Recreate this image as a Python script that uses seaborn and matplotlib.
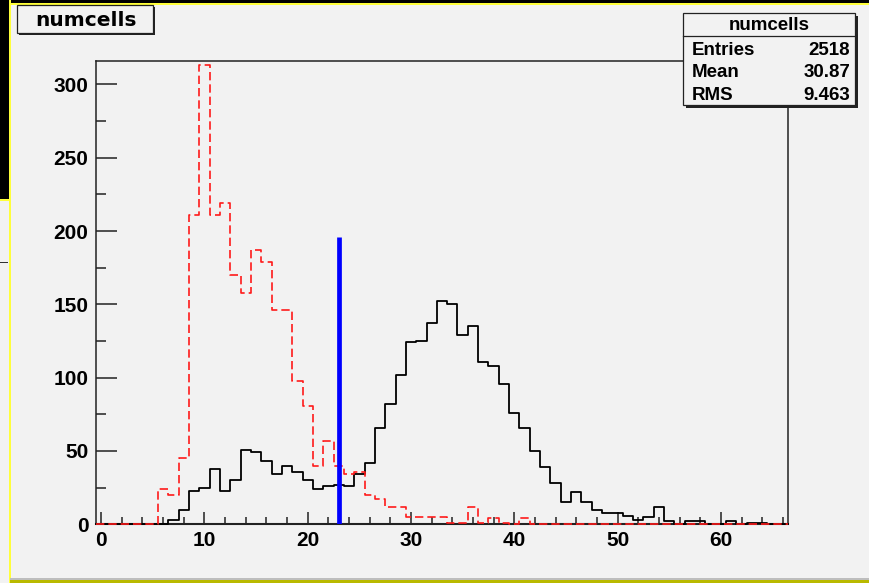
import numpy as np
import pandas as pd
import matplotlib
matplotlib.use("Agg")
import matplotlib.pyplot as plt
from matplotlib.patches import Rectangle
import seaborn as sns

# ---- data: counts per unit-width bin, bins centred on 0..66 ----
bin_centers = list(range(67))
counts_all = [0, 0, 0, 0, 0, 0, 0, 3, 10, 23, 25, 38, 23, 30, 51, 49, 43, 34, 40, 36,
              30, 24, 26, 27, 26, 34, 42, 66, 82, 102, 124, 125, 137, 152, 150, 129, 135, 111, 108, 96,
              76, 66, 50, 39, 28, 15, 22, 15, 10, 8, 8, 6, 3, 5, 12, 2, 0, 2, 2, 0,
              0, 2, 0, 1, 1, 0, 0]
counts_sel = [0, 0, 0, 0, 0, 0, 24, 20, 45, 211, 313, 211, 219, 170, 158, 187, 179, 146, 146, 98,
              81, 40, 57, 40, 34, 36, 20, 17, 12, 12, 5, 5, 5, 5, 1, 1, 12, 1, 4, 1,
              0, 4, 0, 0, 0, 0, 0, 0, 0, 0, 0, 0, 0, 0, 0, 0, 0, 0, 0, 0,
              0, 0, 0, 0, 0, 0, 0]
cut_value = 23
cut_height = 196

hist_title = "numcells"
stat_names = ["Entries", "Mean", "RMS"]
stat_values = ["2518", "30.87", "9.463"]

x_ticks_major = [0, 10, 20, 30, 40, 50, 60]
y_ticks_major = [0, 50, 100, 150, 200, 250, 300]

# ---- figure ----
W, H = 870, 583
BG = "#f2f2f2"
fig = plt.figure(figsize=(W / 100, H / 100), dpi=100, facecolor=BG)

LABEL_FONT = "Liberation Sans"


def frac(x0, y0, x1, y1):
    return [x0 / W, 1 - y1 / H, (x1 - x0) / W, (y1 - y0) / H]


# window decoration layer
deco = fig.add_axes([0, 0, 1, 1], zorder=0)
deco.set_xlim(0, W)
deco.set_ylim(H, 0)
deco.axis("off")
deco.add_patch(Rectangle((0, 0), 9, 200, color="black", lw=0))
deco.add_patch(Rectangle((0, 0), W, 3, color="black", lw=0))
deco.add_patch(Rectangle((9, 0), 2.2, H, color="#ffff3a", lw=0))
deco.add_patch(Rectangle((9, 3), W - 9, 2.2, color="#ffff3a", lw=0))
deco.add_patch(Rectangle((0, 199), 10, 2.2, color="#ffff3a", lw=0))
deco.add_patch(Rectangle((0, 261.5), 8, 1.5, color="#333333", lw=0))
deco.add_patch(Rectangle((10, 577.5), W - 10, 2.0, color="#bdbdbd", lw=0))
deco.add_patch(Rectangle((10, 579.5), W - 10, 3.5, color="#b9b900", lw=0))

# main histogram axes
ax = fig.add_axes(frac(96, 61, 788, 524.3), zorder=1)
ax.set_facecolor(BG)

n_bins = len(bin_centers)
bin_range = (bin_centers[0] - 0.5, bin_centers[-1] + 0.5)
df = pd.DataFrame({"x": bin_centers, "all": counts_all, "sel": counts_sel})

sns.histplot(data=df, x="x", weights="all", bins=n_bins, binrange=bin_range,
             element="step", fill=False, color="black", linewidth=1.3, ax=ax,
             zorder=3, clip_on=False)
sns.histplot(data=df, x="x", weights="sel", bins=n_bins, binrange=bin_range,
             element="step", fill=False, color="#ff1a1a", linewidth=1.2,
             linestyle=(0, (5.0, 2.4)), ax=ax, zorder=4, clip_on=False)
ax.plot([cut_value, cut_value], [0, cut_height], color="#0000ff", lw=3.4,
        solid_capstyle="butt", zorder=5)

ax.set_xlim(-0.5, 66.5)
ax.set_ylim(0, 316)
ax.set_xlabel("")
ax.set_ylabel("")

ax.set_xticks(x_ticks_major)
ax.set_xticks(np.arange(0, 67, 2), minor=True)
ax.set_yticks(y_ticks_major)
ax.set_yticks(np.arange(25, 316, 50), minor=True)
ax.set_xticklabels([str(v) for v in x_ticks_major])
ax.set_yticklabels([str(v) for v in y_ticks_major])

for lab in ax.get_xticklabels() + ax.get_yticklabels():
    lab.set_fontfamily(LABEL_FONT)
    lab.set_fontweight("bold")
    lab.set_fontsize(15)

ax.tick_params(axis="x", which="major", direction="in", length=9, width=1.1,
               color="#222222", pad=5, top=False)
ax.tick_params(axis="x", which="minor", direction="in", length=5, width=1.1,
               color="#222222", top=False)
ax.tick_params(axis="y", which="major", direction="in", length=15, width=1.1,
               color="#222222", pad=5.5, right=False)
ax.tick_params(axis="y", which="minor", direction="in", length=7.5, width=1.1,
               color="#222222", right=False)
for sp in ax.spines.values():
    sp.set_color("#222222")
    sp.set_linewidth(1.1)
    sp.set_zorder(2)
ax.spines["bottom"].set_linewidth(1.5)

# boxes drawn over the plot
top = fig.add_axes([0, 0, 1, 1], zorder=10)
top.set_xlim(0, W)
top.set_ylim(H, 0)
top.axis("off")
top.patch.set_alpha(0)

# title box with drop shadow
top.add_patch(Rectangle((19, 7), 136, 28, color="#222222", lw=0))
top.add_patch(Rectangle((17, 4.5), 136, 28.5, facecolor=BG, edgecolor="#222222", lw=0.9))
top.text(86.5, 26, hist_title, ha="center", va="baseline", fontsize=14.5,
         fontweight="bold", family="DejaVu Sans", color="black")

# statistics box with drop shadow
top.add_patch(Rectangle((686, 16), 172, 92, color="#222222", lw=0))
top.add_patch(Rectangle((683.5, 13), 172, 92, facecolor=BG, edgecolor="#222222", lw=0.9))
top.plot([683.5, 855.5], [36, 36], color="#222222", lw=0.9)
top.text(769.5, 30.5, hist_title, ha="center", va="baseline", fontsize=13.5,
         fontweight="bold", family=LABEL_FONT, color="black")
for i, (name, val) in enumerate(zip(stat_names, stat_values)):
    yb = [55, 77, 100][i]
    top.text(692, yb, name, ha="left", va="baseline", fontsize=13.5,
             fontweight="bold", family=LABEL_FONT, color="black")
    top.text(850.5, yb, val, ha="right", va="baseline", fontsize=13.5,
             fontweight="bold", family=LABEL_FONT, color="black")

fig.savefig("out.png", dpi=100, facecolor=BG)
